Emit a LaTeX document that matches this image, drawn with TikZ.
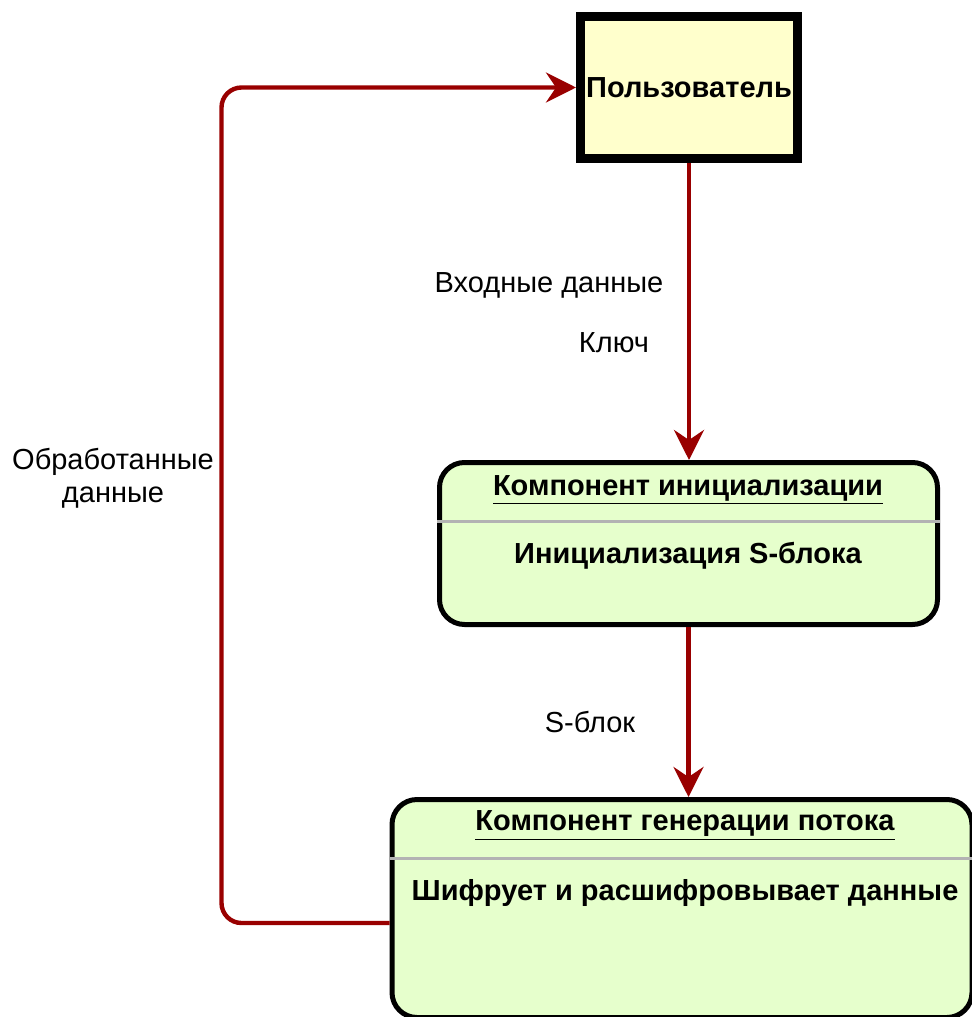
\documentclass[tikz,border=0pt]{standalone}
\usepackage{fontspec}
\setmainfont{Liberation Sans}
\usetikzlibrary{arrows.meta, positioning}
\definecolor{flowred}{HTML}{990000}
\definecolor{userfill}{HTML}{FFFFCC}
\definecolor{compfill}{HTML}{E6FFCC}
\definecolor{sepgray}{HTML}{B3B3B3}

\begin{document}
\begin{tikzpicture}[x=0.5pt, y=-0.5pt,
			>={Stealth[length=15pt, width=15pt, inset=5pt]},
			flow/.style={->, draw=flowred, fill=none, line width=2.2pt, rounded corners=10pt},
			userbox/.style={draw=black, fill=userfill, line width=4.5pt, minimum width=108.5pt, minimum height=71pt, inner sep=0pt, font=\fontsize{14.5}{17}\selectfont\bfseries},
			compbox/.style={draw=black, fill=compfill, line width=2.5pt, rounded corners=12.5pt},
			sepline/.style={draw=sepgray, line width=1.5pt},
			boxtext/.style={font=\fontsize{14.5}{17}\selectfont\bfseries, inner sep=0pt},
			flowlabel/.style={font=\fontsize{14.5}{16.5}\selectfont, align=center}]
			
			\useasboundingbox (0,0) rectangle (972,1017);
			
			\node[userbox] (user) at (689,87.5) {Пользователь};
			\node[compbox, minimum width=249pt, minimum height=81pt] (init) at (688.5,543.5) {};
			\node[compbox, minimum width=290pt, minimum height=109pt] (gen) at (682,908.5) {};
			
			\draw[sepline] (init.west |- 0,521) -- (init.east |- 0,521);
			\draw[sepline] (gen.west |- 0,858) -- (gen.east |- 0,858);
			
			\node[boxtext] (initT) at (688,490) {\underline{Компонент инициализации}};
			\node[boxtext] (initB) at (688,556) {Инициализация S-блока};
			\node[boxtext] (genT) at (685,826) {\underline{Компонент генерации потока}};
			\node[boxtext] (genB) at (685,893) {Шифрует и расшифровывает данные};
			
			\draw[flow] (user.south) -- (user.south |- init.north);
			\draw[flow] (init.south) -- (init.south |- gen.north);
			\draw[flow] (gen.west |- 0,923) -- ++(-168,0) |- (user.west);
			
			\node[flowlabel] (inLbl) at (549,285) {Входные данные};
			\node[flowlabel] (keyLbl) at (614,343) {Ключ};
			\node[flowlabel] (sLbl) at (590,722) {S-блок};
			\node[flowlabel] (outLbl) at (113,478) {Обработанные\\данные};
		\end{tikzpicture}
\end{document}
